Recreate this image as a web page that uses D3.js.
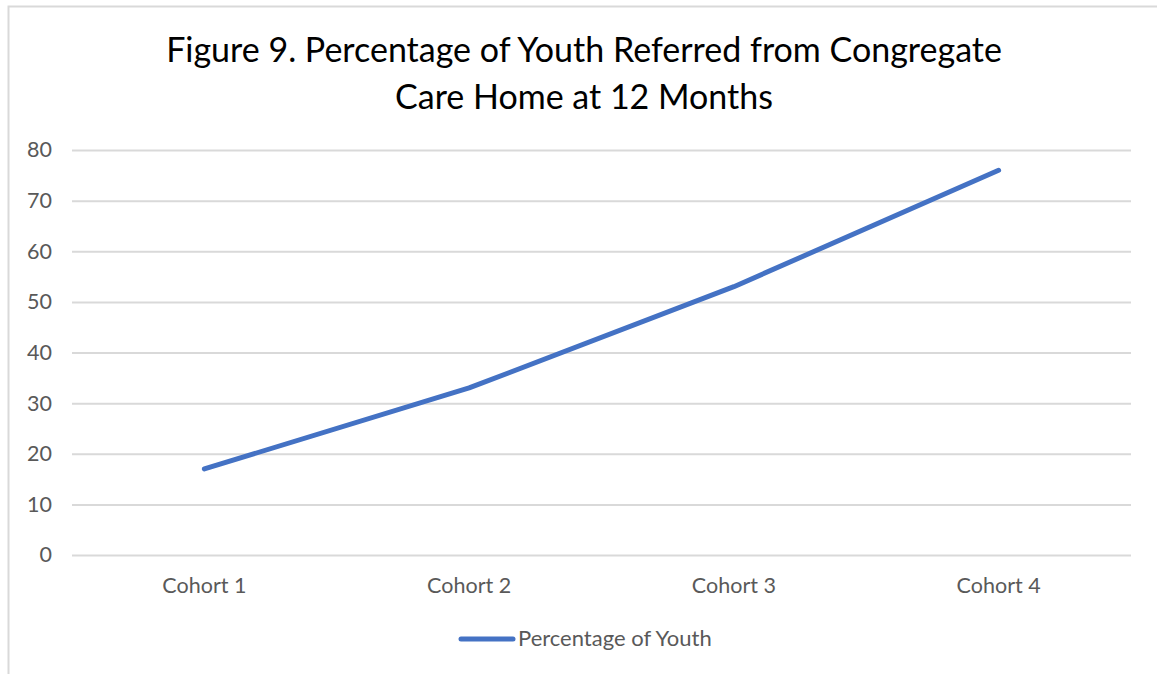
<!DOCTYPE html>
<html>
<head>
<meta charset="utf-8">
<script src="https://cdn.jsdelivr.net/npm/d3@7"></script>
<style>
  html, body { margin: 0; padding: 0; background: #fff; }
  svg { display: block; }
</style>
</head>
<body>
<svg id="chart" width="1157" height="674"></svg>
<script>
const categories = ["Cohort 1", "Cohort 2", "Cohort 3", "Cohort 4"];
const seriesName = "Percentage of Youth";
const values = [17, 33, 53, 76];
const yTicks = [0, 10, 20, 30, 40, 50, 60, 70, 80];
const titleLines = ["Figure 9. Percentage of Youth Referred from Congregate", "Care Home at 12 Months"];

const W = 1157, H = 674;
const font = "Lato, 'Open Sans', sans-serif";
const labelSize = 21.5;
const svg = d3.select("#chart");

// chart border
svg.append("rect")
  .attr("x", 8.5).attr("y", 6.5)
  .attr("width", W + 20).attr("height", H + 20)
  .attr("fill", "#fff").attr("stroke", "#d9d9d9").attr("stroke-width", 2);

const plot = { left: 72, right: 1131, top: 150, bottom: 555 };

const x = d3.scaleBand().domain(categories).range([plot.left, plot.right]);
const y = d3.scaleLinear().domain([0, 80]).range([plot.bottom, plot.top]);

// title
svg.append("text")
  .attr("x", 584).attr("y", 62)
  .attr("text-anchor", "middle")
  .attr("font-family", font).attr("font-size", 34).attr("fill", "#000")
  .selectAll("tspan").data(titleLines).join("tspan")
  .attr("x", 584).attr("dy", (d, i) => i === 0 ? 0 : 47)
  .text(d => d);

// gridlines
const yAxis = d3.axisLeft(y).tickValues(yTicks).tickSize(-(plot.right - plot.left)).tickPadding(20);
const gy = svg.append("g").attr("transform", `translate(${plot.left},0)`).call(yAxis);
gy.select(".domain").remove();
gy.selectAll(".tick line").attr("stroke", "#d9d9d9").attr("stroke-width", 2);
gy.selectAll(".tick text").attr("font-family", font).attr("font-size", labelSize).attr("fill", "#595959");

// x axis labels
const xAxis = d3.axisBottom(x).tickSize(0).tickPadding(22.5);
const gx = svg.append("g").attr("transform", `translate(0,${plot.bottom})`).call(xAxis);
gx.select(".domain").remove();
gx.selectAll(".tick text").attr("font-family", font).attr("font-size", labelSize).attr("fill", "#595959");

// line
const line = d3.line()
  .x((d, i) => x(categories[i]) + x.bandwidth() / 2)
  .y(d => y(d));
svg.append("path")
  .datum(values)
  .attr("d", line)
  .attr("fill", "none")
  .attr("stroke", "#4472C4")
  .attr("stroke-width", 5)
  .attr("stroke-linecap", "round")
  .attr("stroke-linejoin", "round");

// legend
const lg = svg.append("g");
lg.append("line")
  .attr("x1", 461).attr("x2", 513).attr("y1", 639).attr("y2", 639)
  .attr("stroke", "#4472C4").attr("stroke-width", 5).attr("stroke-linecap", "round");
lg.append("text")
  .attr("x", 518).attr("y", 646)
  .attr("font-family", font).attr("font-size", 22).attr("fill", "#595959")
  .text(seriesName);
</script>
</body>
</html>
